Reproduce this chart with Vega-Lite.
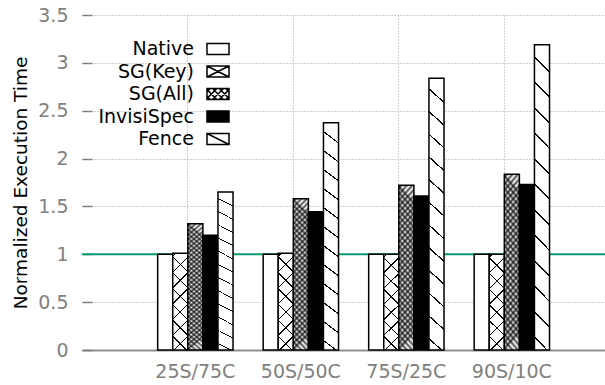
{
  "$schema": "https://vega.github.io/schema/vega-lite/v6.json",
  "width": 523,
  "height": 335,
  "autosize": {"type": "none"},
  "padding": {"left": 82, "top": 15, "right": 0, "bottom": 35},
  "background": "white",
  "config": {
    "view": {"stroke": null},
    "font": "DejaVu Sans",
    "axis": {
      "gridColor": "#a0a0a0",
      "gridDash": [1, 2],
      "gridWidth": 1,
      "labelFont": "DejaVu Sans",
      "labelFontSize": 19,
      "labelColor": "#808080",
      "titleFont": "DejaVu Sans",
      "titleFontSize": 18.5,
      "titleFontWeight": "normal",
      "titleColor": "black"
    }
  },
  "layer": [
    {
      "data": {"values": [{"time": 1}]},
      "mark": {"type": "rule", "color": "#009e73", "strokeWidth": 2},
      "encoding": {
        "y": {"field": "time", "type": "quantitative", "scale": {"domain": [0, 3.5], "nice": false}}
      }
    },
    {
      "data": {
        "values": [
          {"config": "25S/75C", "scheme": "Native", "time": 1.0},
          {"config": "25S/75C", "scheme": "SG(Key)", "time": 1.01},
          {"config": "25S/75C", "scheme": "SG(All)", "time": 1.32},
          {"config": "25S/75C", "scheme": "InvisiSpec", "time": 1.2},
          {"config": "25S/75C", "scheme": "Fence", "time": 1.65},
          {"config": "50S/50C", "scheme": "Native", "time": 1.0},
          {"config": "50S/50C", "scheme": "SG(Key)", "time": 1.01},
          {"config": "50S/50C", "scheme": "SG(All)", "time": 1.58},
          {"config": "50S/50C", "scheme": "InvisiSpec", "time": 1.445},
          {"config": "50S/50C", "scheme": "Fence", "time": 2.375},
          {"config": "75S/25C", "scheme": "Native", "time": 1.0},
          {"config": "75S/25C", "scheme": "SG(Key)", "time": 1.0},
          {"config": "75S/25C", "scheme": "SG(All)", "time": 1.72},
          {"config": "75S/25C", "scheme": "InvisiSpec", "time": 1.61},
          {"config": "75S/25C", "scheme": "Fence", "time": 2.84},
          {"config": "90S/10C", "scheme": "Native", "time": 1.0},
          {"config": "90S/10C", "scheme": "SG(Key)", "time": 1.0},
          {"config": "90S/10C", "scheme": "SG(All)", "time": 1.835},
          {"config": "90S/10C", "scheme": "InvisiSpec", "time": 1.73},
          {"config": "90S/10C", "scheme": "Fence", "time": 3.19}
        ]
      },
      "encoding": {
        "x": {
          "field": "config", "type": "nominal",
          "sort": ["25S/75C", "50S/50C", "75S/25C", "90S/10C"],
          "scale": {"paddingInner": 0, "paddingOuter": 0.4787, "align": 0.6},
          "axis": {
            "title": null, "labelAngle": 0, "ticks": false, "domainColor": "#909090", "domainWidth": 2,
            "grid": true, "bandPosition": 0.4289, "labelPadding": 12
          }
        },
        "xOffset": {
          "field": "scheme", "type": "nominal",
          "sort": ["Native", "SG(Key)", "SG(All)", "InvisiSpec", "Fence"],
          "scale": {"paddingInner": 0, "paddingOuter": 1.0167}
        },
        "y": {
          "field": "time", "type": "quantitative", "stack": null,
          "scale": {"domain": [0, 3.5], "nice": false},
          "axis": {
            "title": "Normalized Execution Time",
            "values": [0, 0.5, 1, 1.5, 2, 2.5, 3, 3.5],
            "format": "~g",
            "domain": false, "grid": true,
            "tickColor": "#808080", "tickWidth": 1.5, "tickSize": -10,
            "labelPadding": 24, "titlePadding": 7
          }
        }
      },
      "layer": [
        {
          "mark": {"type": "bar", "stroke": "black", "strokeWidth": 1.5},
          "encoding": {
            "fill": {
              "field": "scheme", "type": "nominal",
              "scale": {"domain": ["Native", "SG(Key)", "SG(All)", "InvisiSpec", "Fence"], "range": ["white", "white", "white", "black", "white"]},
              "legend": {
                "orient": "none", "legendX": 124, "legendY": 22, "title": null,
                "labelFont": "DejaVu Sans", "labelFontSize": 19, "labelColor": "black",
                "labelAlign": "right", "labelOffset": -36, "labelLimit": 0,
                "symbolType": "M-1,-0.5H1V0.5H-1Z", "symbolSize": 484,
                "symbolStrokeColor": "black", "symbolStrokeWidth": 1.5,
                "rowPadding": 0.5, "padding": 0,
                "encode": {
                  "symbols": {
                    "update": {
                      "stroke": {"value": "black"},
                      "strokeWidth": {"value": 1.5},
                      "shape": [
                        {"test": "datum.value === 'SG(Key)'", "value": "M-1,-0.5H1V0.5H-1Z M-1,-0.5L1,0.5 M-1,0.5L1,-0.5"},
                        {"test": "datum.value === 'SG(All)'", "value": "M-1,-0.5H1V0.5H-1Z M-1,0.2L-0.7,0.5 M-1,-0.4L-0.1,0.5 M-0.5,-0.5L0.5,0.5 M0.1,-0.5L1,0.4 M0.7,-0.5L1,-0.2 M-1,-0.2L-0.7,-0.5 M-1,0.4L-0.1,-0.5 M-0.5,0.5L0.5,-0.5 M0.1,0.5L1,-0.4 M0.7,0.5L1,0.2"},
                        {"test": "datum.value === 'Fence'", "value": "M-1,-0.5H1V0.5H-1Z M-1,-0.5L1,0.5"},
                        {"value": "M-1,-0.5H1V0.5H-1Z"}
                      ]
                    }
                  }
                }
              }
            }
          }
        },
        {
          "transform": [{"filter": "datum.scheme === 'SG(Key)'"}],
          "mark": {
            "type": "bar",
            "fill": {
              "gradient": "linear", "x1": 0.156, "y1": 0, "x2": 0, "y2": 1,
              "stops": [
                {"offset": 0.053, "color": "rgba(0,0,0,0)"}, {"offset": 0.053, "color": "black"}, {"offset": 0.067, "color": "black"}, {"offset": 0.067, "color": "rgba(0,0,0,0)"},
                {"offset": 0.213, "color": "rgba(0,0,0,0)"}, {"offset": 0.213, "color": "black"}, {"offset": 0.227, "color": "black"}, {"offset": 0.227, "color": "rgba(0,0,0,0)"},
                {"offset": 0.373, "color": "rgba(0,0,0,0)"}, {"offset": 0.373, "color": "black"}, {"offset": 0.387, "color": "black"}, {"offset": 0.387, "color": "rgba(0,0,0,0)"},
                {"offset": 0.533, "color": "rgba(0,0,0,0)"}, {"offset": 0.533, "color": "black"}, {"offset": 0.547, "color": "black"}, {"offset": 0.547, "color": "rgba(0,0,0,0)"},
                {"offset": 0.693, "color": "rgba(0,0,0,0)"}, {"offset": 0.693, "color": "black"}, {"offset": 0.707, "color": "black"}, {"offset": 0.707, "color": "rgba(0,0,0,0)"},
                {"offset": 0.853, "color": "rgba(0,0,0,0)"}, {"offset": 0.853, "color": "black"}, {"offset": 0.867, "color": "black"}, {"offset": 0.867, "color": "rgba(0,0,0,0)"}
              ]
            }
          }
        },
        {
          "transform": [{"filter": "datum.scheme === 'SG(Key)'"}],
          "mark": {
            "type": "bar",
            "fill": {
              "gradient": "linear", "x1": 0, "y1": 0, "x2": 0.156, "y2": 1,
              "stops": [
                {"offset": 0.0216, "color": "rgba(0,0,0,0)"}, {"offset": 0.0216, "color": "black"}, {"offset": 0.0356, "color": "black"}, {"offset": 0.0356, "color": "rgba(0,0,0,0)"},
                {"offset": 0.1816, "color": "rgba(0,0,0,0)"}, {"offset": 0.1816, "color": "black"}, {"offset": 0.1956, "color": "black"}, {"offset": 0.1956, "color": "rgba(0,0,0,0)"},
                {"offset": 0.3416, "color": "rgba(0,0,0,0)"}, {"offset": 0.3416, "color": "black"}, {"offset": 0.3556, "color": "black"}, {"offset": 0.3556, "color": "rgba(0,0,0,0)"},
                {"offset": 0.5016, "color": "rgba(0,0,0,0)"}, {"offset": 0.5016, "color": "black"}, {"offset": 0.5156, "color": "black"}, {"offset": 0.5156, "color": "rgba(0,0,0,0)"},
                {"offset": 0.6616, "color": "rgba(0,0,0,0)"}, {"offset": 0.6616, "color": "black"}, {"offset": 0.6756, "color": "black"}, {"offset": 0.6756, "color": "rgba(0,0,0,0)"},
                {"offset": 0.8216, "color": "rgba(0,0,0,0)"}, {"offset": 0.8216, "color": "black"}, {"offset": 0.8356, "color": "black"}, {"offset": 0.8356, "color": "rgba(0,0,0,0)"},
                {"offset": 0.9816, "color": "rgba(0,0,0,0)"}, {"offset": 0.9816, "color": "black"}, {"offset": 0.9956, "color": "black"}, {"offset": 0.9956, "color": "rgba(0,0,0,0)"}
              ]
            }
          }
        },
        {
          "transform": [{"filter": "datum.scheme === 'SG(All)'"}],
          "mark": {
            "type": "bar",
            "fill": {
              "gradient": "linear", "x1": 0.1, "y1": 0, "x2": 0, "y2": 1,
              "stops": [
                {"offset": 0, "color": "rgba(0,0,0,0)"}, {"offset": 0.0179, "color": "rgba(0,0,0,0.7)"}, {"offset": 0.0357, "color": "rgba(0,0,0,0)"}, {"offset": 0.0536, "color": "rgba(0,0,0,0.7)"},
                {"offset": 0.0714, "color": "rgba(0,0,0,0)"}, {"offset": 0.0893, "color": "rgba(0,0,0,0.7)"}, {"offset": 0.1071, "color": "rgba(0,0,0,0)"}, {"offset": 0.125, "color": "rgba(0,0,0,0.7)"},
                {"offset": 0.1429, "color": "rgba(0,0,0,0)"}, {"offset": 0.1607, "color": "rgba(0,0,0,0.7)"}, {"offset": 0.1786, "color": "rgba(0,0,0,0)"}, {"offset": 0.1964, "color": "rgba(0,0,0,0.7)"},
                {"offset": 0.2143, "color": "rgba(0,0,0,0)"}, {"offset": 0.2321, "color": "rgba(0,0,0,0.7)"}, {"offset": 0.25, "color": "rgba(0,0,0,0)"}, {"offset": 0.2679, "color": "rgba(0,0,0,0.7)"},
                {"offset": 0.2857, "color": "rgba(0,0,0,0)"}, {"offset": 0.3036, "color": "rgba(0,0,0,0.7)"}, {"offset": 0.3214, "color": "rgba(0,0,0,0)"}, {"offset": 0.3393, "color": "rgba(0,0,0,0.7)"},
                {"offset": 0.3571, "color": "rgba(0,0,0,0)"}, {"offset": 0.375, "color": "rgba(0,0,0,0.7)"}, {"offset": 0.3929, "color": "rgba(0,0,0,0)"}, {"offset": 0.4107, "color": "rgba(0,0,0,0.7)"},
                {"offset": 0.4286, "color": "rgba(0,0,0,0)"}, {"offset": 0.4464, "color": "rgba(0,0,0,0.7)"}, {"offset": 0.4643, "color": "rgba(0,0,0,0)"}, {"offset": 0.4821, "color": "rgba(0,0,0,0.7)"},
                {"offset": 0.5, "color": "rgba(0,0,0,0)"}, {"offset": 0.5179, "color": "rgba(0,0,0,0.7)"}, {"offset": 0.5357, "color": "rgba(0,0,0,0)"}, {"offset": 0.5536, "color": "rgba(0,0,0,0.7)"},
                {"offset": 0.5714, "color": "rgba(0,0,0,0)"}, {"offset": 0.5893, "color": "rgba(0,0,0,0.7)"}, {"offset": 0.6071, "color": "rgba(0,0,0,0)"}, {"offset": 0.625, "color": "rgba(0,0,0,0.7)"},
                {"offset": 0.6429, "color": "rgba(0,0,0,0)"}, {"offset": 0.6607, "color": "rgba(0,0,0,0.7)"}, {"offset": 0.6786, "color": "rgba(0,0,0,0)"}, {"offset": 0.6964, "color": "rgba(0,0,0,0.7)"},
                {"offset": 0.7143, "color": "rgba(0,0,0,0)"}, {"offset": 0.7321, "color": "rgba(0,0,0,0.7)"}, {"offset": 0.75, "color": "rgba(0,0,0,0)"}, {"offset": 0.7679, "color": "rgba(0,0,0,0.7)"},
                {"offset": 0.7857, "color": "rgba(0,0,0,0)"}, {"offset": 0.8036, "color": "rgba(0,0,0,0.7)"}, {"offset": 0.8214, "color": "rgba(0,0,0,0)"}, {"offset": 0.8393, "color": "rgba(0,0,0,0.7)"},
                {"offset": 0.8571, "color": "rgba(0,0,0,0)"}, {"offset": 0.875, "color": "rgba(0,0,0,0.7)"}, {"offset": 0.8929, "color": "rgba(0,0,0,0)"}, {"offset": 0.9107, "color": "rgba(0,0,0,0.7)"},
                {"offset": 0.9286, "color": "rgba(0,0,0,0)"}, {"offset": 0.9464, "color": "rgba(0,0,0,0.7)"}, {"offset": 0.9643, "color": "rgba(0,0,0,0)"}, {"offset": 0.9821, "color": "rgba(0,0,0,0.7)"},
                {"offset": 1, "color": "rgba(0,0,0,0)"}
              ]
            }
          }
        },
        {
          "transform": [{"filter": "datum.scheme === 'SG(All)'"}],
          "mark": {
            "type": "bar",
            "fill": {
              "gradient": "linear", "x1": 0, "y1": 0, "x2": 0.1, "y2": 1,
              "stops": [
                {"offset": 0, "color": "rgba(0,0,0,0)"}, {"offset": 0.0179, "color": "rgba(0,0,0,0.7)"}, {"offset": 0.0357, "color": "rgba(0,0,0,0)"}, {"offset": 0.0536, "color": "rgba(0,0,0,0.7)"},
                {"offset": 0.0714, "color": "rgba(0,0,0,0)"}, {"offset": 0.0893, "color": "rgba(0,0,0,0.7)"}, {"offset": 0.1071, "color": "rgba(0,0,0,0)"}, {"offset": 0.125, "color": "rgba(0,0,0,0.7)"},
                {"offset": 0.1429, "color": "rgba(0,0,0,0)"}, {"offset": 0.1607, "color": "rgba(0,0,0,0.7)"}, {"offset": 0.1786, "color": "rgba(0,0,0,0)"}, {"offset": 0.1964, "color": "rgba(0,0,0,0.7)"},
                {"offset": 0.2143, "color": "rgba(0,0,0,0)"}, {"offset": 0.2321, "color": "rgba(0,0,0,0.7)"}, {"offset": 0.25, "color": "rgba(0,0,0,0)"}, {"offset": 0.2679, "color": "rgba(0,0,0,0.7)"},
                {"offset": 0.2857, "color": "rgba(0,0,0,0)"}, {"offset": 0.3036, "color": "rgba(0,0,0,0.7)"}, {"offset": 0.3214, "color": "rgba(0,0,0,0)"}, {"offset": 0.3393, "color": "rgba(0,0,0,0.7)"},
                {"offset": 0.3571, "color": "rgba(0,0,0,0)"}, {"offset": 0.375, "color": "rgba(0,0,0,0.7)"}, {"offset": 0.3929, "color": "rgba(0,0,0,0)"}, {"offset": 0.4107, "color": "rgba(0,0,0,0.7)"},
                {"offset": 0.4286, "color": "rgba(0,0,0,0)"}, {"offset": 0.4464, "color": "rgba(0,0,0,0.7)"}, {"offset": 0.4643, "color": "rgba(0,0,0,0)"}, {"offset": 0.4821, "color": "rgba(0,0,0,0.7)"},
                {"offset": 0.5, "color": "rgba(0,0,0,0)"}, {"offset": 0.5179, "color": "rgba(0,0,0,0.7)"}, {"offset": 0.5357, "color": "rgba(0,0,0,0)"}, {"offset": 0.5536, "color": "rgba(0,0,0,0.7)"},
                {"offset": 0.5714, "color": "rgba(0,0,0,0)"}, {"offset": 0.5893, "color": "rgba(0,0,0,0.7)"}, {"offset": 0.6071, "color": "rgba(0,0,0,0)"}, {"offset": 0.625, "color": "rgba(0,0,0,0.7)"},
                {"offset": 0.6429, "color": "rgba(0,0,0,0)"}, {"offset": 0.6607, "color": "rgba(0,0,0,0.7)"}, {"offset": 0.6786, "color": "rgba(0,0,0,0)"}, {"offset": 0.6964, "color": "rgba(0,0,0,0.7)"},
                {"offset": 0.7143, "color": "rgba(0,0,0,0)"}, {"offset": 0.7321, "color": "rgba(0,0,0,0.7)"}, {"offset": 0.75, "color": "rgba(0,0,0,0)"}, {"offset": 0.7679, "color": "rgba(0,0,0,0.7)"},
                {"offset": 0.7857, "color": "rgba(0,0,0,0)"}, {"offset": 0.8036, "color": "rgba(0,0,0,0.7)"}, {"offset": 0.8214, "color": "rgba(0,0,0,0)"}, {"offset": 0.8393, "color": "rgba(0,0,0,0.7)"},
                {"offset": 0.8571, "color": "rgba(0,0,0,0)"}, {"offset": 0.875, "color": "rgba(0,0,0,0.7)"}, {"offset": 0.8929, "color": "rgba(0,0,0,0)"}, {"offset": 0.9107, "color": "rgba(0,0,0,0.7)"},
                {"offset": 0.9286, "color": "rgba(0,0,0,0)"}, {"offset": 0.9464, "color": "rgba(0,0,0,0.7)"}, {"offset": 0.9643, "color": "rgba(0,0,0,0)"}, {"offset": 0.9821, "color": "rgba(0,0,0,0.7)"},
                {"offset": 1, "color": "rgba(0,0,0,0)"}
              ]
            }
          }
        },
        {
          "transform": [{"filter": "datum.scheme === 'Fence'"}],
          "mark": {
            "type": "bar",
            "fill": {
              "gradient": "linear", "x1": 0.05, "y1": 0, "x2": 0, "y2": 1,
              "stops": [
                {"offset": 0.0387, "color": "rgba(0,0,0,0)"}, {"offset": 0.0387, "color": "black"}, {"offset": 0.0447, "color": "black"}, {"offset": 0.0447, "color": "rgba(0,0,0,0)"},
                {"offset": 0.122, "color": "rgba(0,0,0,0)"}, {"offset": 0.122, "color": "black"}, {"offset": 0.128, "color": "black"}, {"offset": 0.128, "color": "rgba(0,0,0,0)"},
                {"offset": 0.2053, "color": "rgba(0,0,0,0)"}, {"offset": 0.2053, "color": "black"}, {"offset": 0.2113, "color": "black"}, {"offset": 0.2113, "color": "rgba(0,0,0,0)"},
                {"offset": 0.2887, "color": "rgba(0,0,0,0)"}, {"offset": 0.2887, "color": "black"}, {"offset": 0.2947, "color": "black"}, {"offset": 0.2947, "color": "rgba(0,0,0,0)"},
                {"offset": 0.372, "color": "rgba(0,0,0,0)"}, {"offset": 0.372, "color": "black"}, {"offset": 0.378, "color": "black"}, {"offset": 0.378, "color": "rgba(0,0,0,0)"},
                {"offset": 0.4553, "color": "rgba(0,0,0,0)"}, {"offset": 0.4553, "color": "black"}, {"offset": 0.4613, "color": "black"}, {"offset": 0.4613, "color": "rgba(0,0,0,0)"},
                {"offset": 0.5387, "color": "rgba(0,0,0,0)"}, {"offset": 0.5387, "color": "black"}, {"offset": 0.5447, "color": "black"}, {"offset": 0.5447, "color": "rgba(0,0,0,0)"},
                {"offset": 0.622, "color": "rgba(0,0,0,0)"}, {"offset": 0.622, "color": "black"}, {"offset": 0.628, "color": "black"}, {"offset": 0.628, "color": "rgba(0,0,0,0)"},
                {"offset": 0.7053, "color": "rgba(0,0,0,0)"}, {"offset": 0.7053, "color": "black"}, {"offset": 0.7113, "color": "black"}, {"offset": 0.7113, "color": "rgba(0,0,0,0)"},
                {"offset": 0.7887, "color": "rgba(0,0,0,0)"}, {"offset": 0.7887, "color": "black"}, {"offset": 0.7947, "color": "black"}, {"offset": 0.7947, "color": "rgba(0,0,0,0)"},
                {"offset": 0.872, "color": "rgba(0,0,0,0)"}, {"offset": 0.872, "color": "black"}, {"offset": 0.878, "color": "black"}, {"offset": 0.878, "color": "rgba(0,0,0,0)"},
                {"offset": 0.9553, "color": "rgba(0,0,0,0)"}, {"offset": 0.9553, "color": "black"}, {"offset": 0.9613, "color": "black"}, {"offset": 0.9613, "color": "rgba(0,0,0,0)"}
              ]
            }
          }
        }
      ]
    }
  ]
}
